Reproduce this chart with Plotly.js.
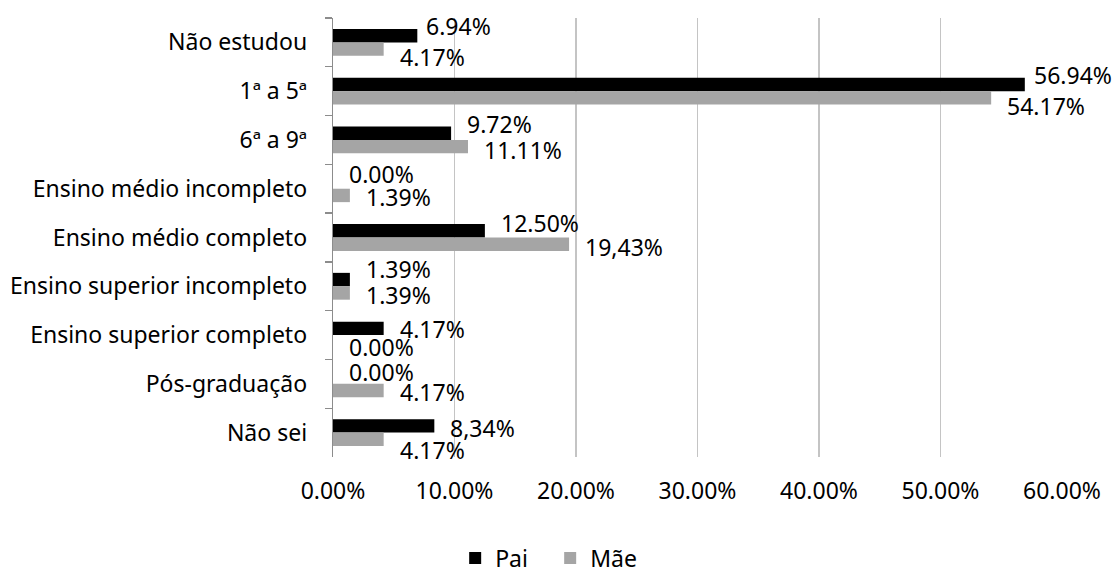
<!DOCTYPE html>
<html>
<head>
<meta charset="utf-8">
<script src="https://cdn.plot.ly/plotly-3.0.1.min.js"></script>
<style>
  html, body { margin: 0; padding: 0; background: #ffffff; }
  #chart { width: 1116px; height: 573px; }
</style>
</head>
<body>
<div id="chart"></div>
<script>
// Escolaridade dos pais (percentual)
const categories = [
  'Não estudou',
  '1ª a 5ª',
  '6ª a 9ª',
  'Ensino médio incompleto',
  'Ensino médio completo',
  'Ensino superior incompleto',
  'Ensino superior completo',
  'Pós-graduação',
  'Não sei'
];
const seriesNames = ['Pai', 'Mãe'];
const paiValues = [6.94, 56.94, 9.72, 0.00, 12.50, 1.39, 4.17, 0.00, 8.34];
const maeValues = [4.17, 54.17, 11.11, 1.39, 19.43, 1.39, 0.00, 4.17, 4.17];
// decimal separator used in each printed label
const paiDecimalSep = ['.', '.', '.', '.', '.', '.', '.', '.', ','];
const maeDecimalSep = ['.', '.', '.', '.', ',', '.', '.', '.', '.'];
const xTickValues = [0, 10, 20, 30, 40, 50, 60];

// label placement tweaks (px): vertical nudge (down) from the bar centre, horizontal gap after bar end
const paiLabelNudge = [-10, -9, -9, -8, -8, -11, 1, -5, 2];
const maeLabelNudge = [8, 8, 3, 2, 3, 2, 5, 1, 11];
const paiLabelGap = [7, 7, 14, 14, 14, 14, 14, 14, 14];
const maeLabelGap = [14, 14, 14, 14, 14, 14, 14, 14, 14];

const FONT = 'Noto Sans, Open Sans, DejaVu Sans, sans-serif';
const FS = 23;
const W = 1116, H = 573;
const margin = { l: 333, r: 54, t: 18, b: 116, pad: 0, autoexpand: false };
const bargap = 0.45;

const plotH = H - margin.t - margin.b;
const band = plotH / categories.length;
const barOffset = band * (1 - bargap) / 4; // distance from category centre to each bar centre

function fmt(v, sep) {
  return v.toFixed(2).replace('.', sep) + '%';
}

const traces = [
  {
    type: 'bar', orientation: 'h', name: seriesNames[0],
    y: categories, x: paiValues,
    marker: { color: '#000000' },
    hoverinfo: 'skip'
  },
  {
    type: 'bar', orientation: 'h', name: seriesNames[1],
    y: categories, x: maeValues,
    marker: { color: '#a5a5a5' },
    hoverinfo: 'skip'
  }
];

const annotations = [];
categories.forEach((c, i) => {
  annotations.push({
    x: paiValues[i], y: c, xref: 'x', yref: 'y',
    text: fmt(paiValues[i], paiDecimalSep[i]),
    showarrow: false, xanchor: 'left', yanchor: 'middle',
    xshift: paiLabelGap[i], yshift: barOffset - paiLabelNudge[i],
    font: { family: FONT, size: FS, color: '#000000' }
  });
  annotations.push({
    x: maeValues[i], y: c, xref: 'x', yref: 'y',
    text: fmt(maeValues[i], maeDecimalSep[i]),
    showarrow: false, xanchor: 'left', yanchor: 'middle',
    xshift: maeLabelGap[i], yshift: -barOffset - maeLabelNudge[i],
    font: { family: FONT, size: FS, color: '#000000' }
  });
});

const layout = {
  width: W, height: H,
  margin: margin,
  paper_bgcolor: '#ffffff', plot_bgcolor: '#ffffff',
  font: { family: FONT, size: FS, color: '#000000' },
  barmode: 'group',
  bargap: bargap,
  bargroupgap: 0,
  showlegend: true,
  legend: {
    orientation: 'h',
    traceorder: 'normal',
    xref: 'paper', x: 0.2979, xanchor: 'center',
    yref: 'paper', y: -0.230, yanchor: 'middle',
    font: { family: FONT, size: FS, color: '#000000' },
    itemwidth: 30,
    entrywidth: 50, entrywidthmode: 'pixels',
    bgcolor: 'rgba(0,0,0,0)'
  },
  xaxis: {
    range: [0, 60],
    tickvals: xTickValues,
    ticktext: xTickValues.map(v => v.toFixed(2) + '%'),
    showgrid: true, gridcolor: '#c4c4c4', gridwidth: 1.3,
    zeroline: false, showline: false,
    ticks: '', ticklabelstandoff: 18,
    tickfont: { family: FONT, size: FS, color: '#000000' },
    fixedrange: true
  },
  yaxis: {
    type: 'category',
    range: [categories.length - 0.5, -0.5],
    showgrid: false, zeroline: false,
    showline: true, linecolor: '#8c8c8c', linewidth: 1.3,
    ticks: 'outside', ticklen: 7, tickwidth: 1.3, tickcolor: '#8c8c8c',
    tickson: 'boundaries',
    ticklabelstandoff: 20,
    tickfont: { family: FONT, size: FS, color: '#000000' },
    fixedrange: true
  },
  annotations: annotations
};

Plotly.newPlot('chart', traces, layout, { displayModeBar: false, staticPlot: true });
</script>
</body>
</html>
